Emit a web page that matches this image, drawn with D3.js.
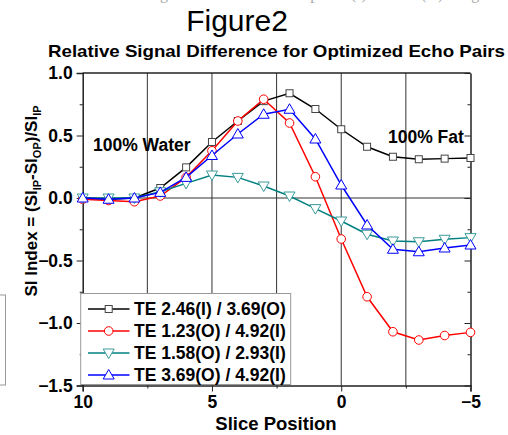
<!DOCTYPE html>
<html lang="en">
<head>
<meta charset="UTF-8">
<title>Figure2</title>
<script src="https://cdn.jsdelivr.net/npm/d3@7"></script>
<style>
  body { margin: 0; background: #fff; }
  svg { display: block; }
  text { font-family: "Liberation Sans", Arial, sans-serif; }
  .bold { font-weight: bold; }
</style>
</head>
<body>
<script>
// slice positions and SI index values
var slices = [10, 9, 8, 7, 6, 5, 4, 3, 2, 1, 0, -1, -2, -3, -4, -5];
var te246_369 = [0.0, -0.01, 0.0, 0.08, 0.245, 0.448, 0.616, 0.775, 0.838, 0.712, 0.55, 0.41, 0.33, 0.31, 0.315, 0.32];
var te123_492 = [-0.01, -0.02, -0.03, 0.016, 0.165, 0.378, 0.616, 0.79, 0.6, 0.17, -0.328, -0.79, -1.07, -1.136, -1.10, -1.075];
var te158_293 = [0.0, 0.0, 0.0, 0.05, 0.117, 0.184, 0.165, 0.096, 0.016, -0.085, -0.184, -0.29, -0.344, -0.35, -0.33, -0.317];
var te369_492 = [0.0, -0.01, 0.0, 0.045, 0.165, 0.34, 0.512, 0.67, 0.71, 0.472, 0.104, -0.216, -0.41, -0.43, -0.40, -0.376];

var seriesNames = ["TE 2.46(I) / 3.69(O)", "TE 1.23(O) / 4.92(I)", "TE 1.58(O) / 2.93(I)", "TE 3.69(O) / 4.92(I)"];
var xTicks = [10, 5, 0, -5];
var yTicks = [1.0, 0.5, 0.0, -0.5, -1.0, -1.5];

var series = [
  { name: seriesNames[0], values: te246_369, color: "#000000", marker: "square" },
  { name: seriesNames[1], values: te123_492, color: "#ff0000", marker: "circle" },
  { name: seriesNames[2], values: te158_293, color: "#008080", marker: "down" },
  { name: seriesNames[3], values: te369_492, color: "#0000ff", marker: "up" }
];

var width = 508, height = 435;
var svg = d3.select("body").append("svg")
  .attr("width", width)
  .attr("height", height);

var x = d3.scaleLinear().domain([10, -5]).range([82.7, 470.5]);
var y = d3.scaleLinear().domain([1.0, -1.5]).range([73, 385.5]);

// faint caption line, mostly above the top edge as in the scan
svg.append("text")
  .attr("x", 92).attr("y", -1)
  .style("font-family", "'Liberation Serif', 'Times New Roman', serif")
  .style("font-size", "16px")
  .attr("fill", "#aaa")
  .text("Relative signal difference with in-phase (I) and TE (O) images");

// stray box at left edge
svg.append("rect")
  .attr("x", -50).attr("y", 295).attr("width", 55.5).attr("height", 90)
  .attr("fill", "none").attr("stroke", "#999").attr("stroke-width", 1);

svg.append("text")
  .attr("x", 237).attr("y", 31)
  .attr("text-anchor", "middle")
  .style("font-size", "30px")
  .text("Figure2");

svg.append("text")
  .attr("class", "bold")
  .attr("x", 48).attr("y", 57)
  .attr("textLength", 457)
  .attr("lengthAdjust", "spacingAndGlyphs")
  .style("font-size", "17px")
  .text("Relative Signal Difference for Optimized Echo Pairs");

// grid lines
var grid = svg.append("g");
grid.selectAll("line.v")
  .data([7.5, 5, 2.5, 0, -2.5])
  .join("line")
  .attr("x1", d => x(d)).attr("x2", d => x(d))
  .attr("y1", y(1.0)).attr("y2", y(-1.5))
  .attr("stroke", "#333").attr("stroke-width", 1);
grid.append("line")
  .attr("x1", x(10)).attr("x2", x(-5))
  .attr("y1", y(0)).attr("y2", y(0))
  .attr("stroke", "#333").attr("stroke-width", 1);

// axes
var minorY = d3.range(-1.25, 1.0, 0.5);
var minorX = [7.5, 2.5, -2.5];

svg.append("g").attr("transform", "translate(" + x(10) + ",0)")
  .call(d3.axisLeft(y).tickValues(yTicks).tickFormat(d3.format(".1f")).tickSize(6).tickPadding(4));
svg.append("g").attr("transform", "translate(" + x(10) + ",0)")
  .call(d3.axisLeft(y).tickValues(minorY).tickFormat("").tickSize(3))
  .select(".domain").remove();

svg.append("g").attr("transform", "translate(0," + y(-1.5) + ")")
  .call(d3.axisBottom(x).tickValues(xTicks).tickFormat(d3.format("d")).tickSize(6).tickPadding(4));
svg.append("g").attr("transform", "translate(0," + y(-1.5) + ")")
  .call(d3.axisBottom(x).tickValues(minorX).tickFormat("").tickSize(3))
  .select(".domain").remove();

svg.append("g").attr("transform", "translate(" + x(-5) + ",0)")
  .call(d3.axisLeft(y).tickValues(yTicks).tickFormat("").tickSize(6).tickSizeOuter(0))
  .call(g => g.selectAll(".tick line").attr("x2", -6));
svg.append("g").attr("transform", "translate(" + x(-5) + ",0)")
  .call(d3.axisLeft(y).tickValues(minorY).tickFormat("").tickSize(3))
  .select(".domain").remove();

svg.append("line")
  .attr("x1", x(10)).attr("x2", x(-5))
  .attr("y1", y(1.0)).attr("y2", y(1.0))
  .attr("stroke", "#222").attr("stroke-width", 1.5);

svg.selectAll(".domain").attr("stroke", "#222").attr("stroke-width", 1.5);
svg.selectAll(".tick line").attr("stroke", "#222").attr("stroke-width", 1);
svg.selectAll(".tick text")
  .attr("class", "bold")
  .style("font-size", "17.5px")
  .style("font-family", "'Liberation Sans', Arial, sans-serif")
  .attr("fill", "#000");

// annotations
svg.append("text").attr("class", "bold")
  .attr("x", 93).attr("y", 151)
  .style("font-size", "17.5px")
  .text("100% Water");
svg.append("text").attr("class", "bold")
  .attr("x", 388).attr("y", 143)
  .style("font-size", "17.5px")
  .text("100% Fat");

svg.append("text").attr("class", "bold")
  .attr("x", 276).attr("y", 430)
  .attr("text-anchor", "middle")
  .style("font-size", "18.5px")
  .text("Slice Position");

var ylab = svg.append("text").attr("class", "bold")
  .attr("transform", "translate(37,201) rotate(-90)")
  .attr("text-anchor", "middle")
  .style("font-size", "17px");
ylab.append("tspan").text("SI Index = (SI");
ylab.append("tspan").attr("dy", 4).style("font-size", "11px").text("IP");
ylab.append("tspan").attr("dy", -4).text("-SI");
ylab.append("tspan").attr("dy", 4).style("font-size", "11px").text("OP");
ylab.append("tspan").attr("dy", -4).text(")/SI");
ylab.append("tspan").attr("dy", 4).style("font-size", "11px").text("IP");

// marker drawing
function drawMarker(g, type, color) {
  if (type === "square") {
    g.append("rect").attr("x", -3.5).attr("y", -3.5).attr("width", 7).attr("height", 7)
      .attr("fill", "#fff").attr("stroke", "#444").attr("stroke-width", 1);
  } else if (type === "circle") {
    g.append("circle").attr("r", 4.3)
      .attr("fill", "#fff").attr("stroke", color).attr("stroke-width", 1);
  } else if (type === "up") {
    g.append("path").attr("d", "M0,-5.5L5.5,4L-5.5,4Z")
      .attr("fill", "#fff").attr("stroke", color).attr("stroke-width", 1);
  } else {
    g.append("path").attr("d", "M0,5.5L5.5,-4L-5.5,-4Z")
      .attr("fill", "#fff").attr("stroke", "#3a9a9a").attr("stroke-width", 1);
  }
}

var line = d3.line()
  .x(d => x(d[0]))
  .y(d => y(d[1]));

// legend box (covers the grid lines under it)
var legend = svg.append("g");
legend.append("rect")
  .attr("x", 80.7).attr("y", 293.5).attr("width", 210).attr("height", 91)
  .attr("fill", "#fff").attr("stroke", "#999").attr("stroke-width", 1);
svg.append("line")
  .attr("x1", x(10)).attr("x2", x(10))
  .attr("y1", 293).attr("y2", y(-1.5))
  .attr("stroke", "#222").attr("stroke-width", 1.5);

series.forEach(function (s, i) {
  var pts = slices.map((d, j) => [d, s.values[j]]);
  var g = svg.append("g");
  g.append("path")
    .attr("d", line(pts))
    .attr("fill", "none")
    .attr("stroke", s.color)
    .attr("stroke-width", 1.5);
  g.selectAll("g.pt")
    .data(pts)
    .join("g")
    .attr("transform", d => "translate(" + x(d[0]) + "," + y(d[1]) + ")")
    .each(function () { drawMarker(d3.select(this), s.marker, s.color); });

  var ly = 309 + i * 22;
  legend.append("line")
    .attr("x1", 88).attr("x2", 129.5)
    .attr("y1", ly).attr("y2", ly)
    .attr("stroke", s.color).attr("stroke-width", 1.5);
  drawMarker(legend.append("g").attr("transform", "translate(108.7," + ly + ")"), s.marker, s.color);
  legend.append("text").attr("class", "bold")
    .attr("x", 134).attr("y", ly + 6)
    .style("font-size", "17.5px")
    .text(s.name);
});
legend.raise();
</script>
</body>
</html>
